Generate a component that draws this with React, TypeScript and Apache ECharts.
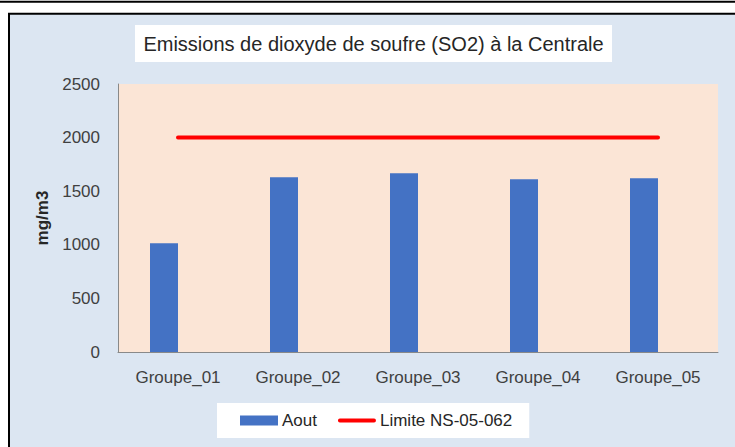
import React, { useEffect, useRef } from "react";
import * as echarts from "echarts";

const categories = ["Groupe_01", "Groupe_02", "Groupe_03", "Groupe_04", "Groupe_05"];
const aoutValues = [1015, 1630, 1667, 1611, 1620];
const limitValues = [2000, 2000, 2000, 2000, 2000];
const yTicks = { min: 0, max: 2500, interval: 500 };
const titleText = "Emissions de dioxyde de soufre (SO2) à la Centrale";
const seriesNames = ["Aout", "Limite NS-05-062"];
const yAxisName = "mg/m3";

const FONT = "'Liberation Sans', Arial, sans-serif";

export default function App() {
  const ref = useRef<HTMLDivElement>(null);
  useEffect(() => {
    document.body.style.margin = "0";
    if (!ref.current) return;
    const chart = echarts.init(ref.current, undefined, { renderer: "svg" });
    chart.setOption({
      animation: false,
      backgroundColor: "#dce6f2",
      textStyle: { fontFamily: FONT },
      graphic: [
        { type: "rect", shape: { x: 0, y: 0, width: 735, height: 13 }, style: { fill: "#ffffff" }, silent: true },
        { type: "rect", shape: { x: 0, y: 0, width: 8, height: 447 }, style: { fill: "#ffffff" }, silent: true },
        { type: "line", shape: { x1: 0, y1: 1.8, x2: 735, y2: 1.8 }, style: { stroke: "#000000", lineWidth: 2 }, silent: true },
        { type: "line", shape: { x1: 8, y1: 13.7, x2: 735, y2: 13.7 }, style: { stroke: "#000000", lineWidth: 2 }, silent: true },
        { type: "line", shape: { x1: 9, y1: 13, x2: 9, y2: 447 }, style: { stroke: "#000000", lineWidth: 2 }, silent: true },
        { type: "rect", shape: { x: 135, y: 25, width: 477, height: 37 }, style: { fill: "#ffffff" }, silent: true },
        {
          type: "text",
          x: 373.5,
          y: 44,
          style: {
            text: titleText,
            fontFamily: FONT,
            fontSize: 20,
            fill: "#262626",
            align: "center",
            verticalAlign: "middle",
          },
          silent: true,
        },
      ],
      grid: {
        left: 118,
        right: 17,
        top: 84,
        bottom: 95,
        show: true,
        backgroundColor: "#fbe5d6",
        borderWidth: 0,
      },
      legend: {
        data: [
          { name: seriesNames[0], icon: "rect" },
          {
            name: seriesNames[1],
            icon: "path://M2,0 H38 A2,2 0 0 1 38,4 H2 A2,2 0 0 1 2,0 Z",
          },
        ],
        symbolKeepAspect: true,
        left: 217,
        top: 403,
        backgroundColor: "#ffffff",
        padding: [9, 17, 9, 23],
        itemWidth: 38,
        itemHeight: 10,
        itemGap: 21,
        textStyle: { fontFamily: FONT, fontSize: 17, color: "#262626", padding: [0, 0, 0, -1] },
      },
      xAxis: {
        type: "category",
        data: categories,
        axisLine: { show: true, lineStyle: { color: "#898989", width: 1 } },
        axisTick: { show: false },
        axisLabel: { fontFamily: FONT, fontSize: 17, color: "#404040", margin: 17 },
      },
      yAxis: {
        type: "value",
        min: yTicks.min,
        max: yTicks.max,
        interval: yTicks.interval,
        name: yAxisName,
        nameLocation: "middle",
        nameRotate: 90,
        nameGap: 57,
        nameTextStyle: { fontFamily: FONT, fontSize: 17, fontWeight: "bold", color: "#262626" },
        axisLine: { show: true, lineStyle: { color: "#898989", width: 1 } },
        axisTick: { show: false },
        splitLine: { show: false },
        axisLabel: {
          fontFamily: FONT,
          fontSize: 17,
          color: "#404040",
          margin: 18,
          formatter: (v: number) => String(v),
        },
      },
      series: [
        {
          name: seriesNames[0],
          type: "bar",
          data: aoutValues,
          barWidth: 28,
          barGap: "0%",
          itemStyle: { color: "#4472c4" },
        },
        {
          name: "_empty",
          type: "bar",
          data: [],
          barWidth: 28,
          barGap: "0%",
        },
        {
          name: seriesNames[1],
          type: "line",
          data: limitValues,
          symbol: "none",
          lineStyle: { color: "#ff0000", width: 4, cap: "round" },
          itemStyle: { color: "#ff0000" },
          z: 5,
        },
      ],
    });
    return () => chart.dispose();
  }, []);
  return <div ref={ref} style={{ width: 735, height: 447 }} />;
}
